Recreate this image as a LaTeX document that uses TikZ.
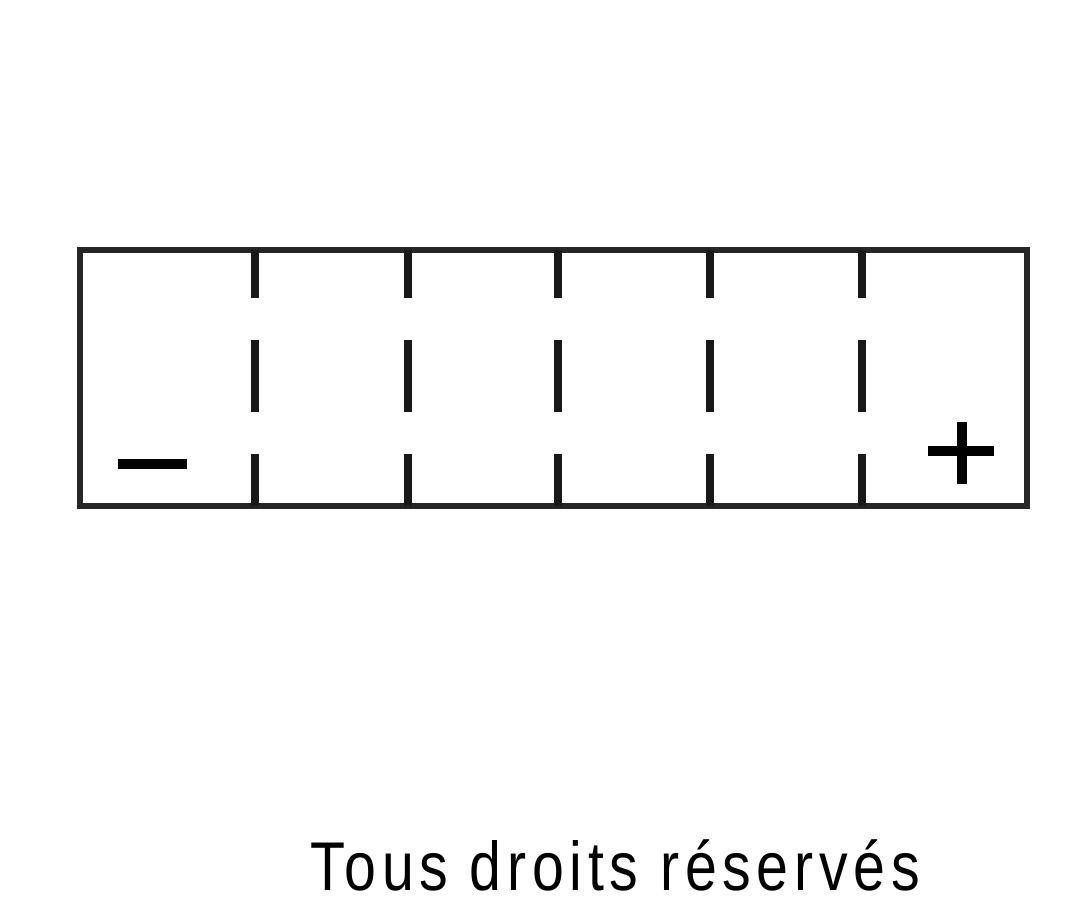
\documentclass[tikz,border=0pt]{standalone}
\usepackage{fontspec}
\newfontfamily\labelfont[LetterSpace=10]{Liberation Sans}
\begin{document}
\begin{tikzpicture}[x=1pt,y=-1pt,
  frame/.style={draw=black!85,line width=6pt},
  sep/.style={draw=black!90,line width=8pt},
  sign/.style={draw=black,line width=10pt},
  caption/.style={font=\labelfont\fontsize{69}{80}\selectfont,inner sep=0pt,anchor=base west}]
\useasboundingbox (0,0) rectangle (1080,906);
\coordinate (tl) at (80,250);
\coordinate (br) at (1027,506);
\draw[frame] (tl) rectangle (br);
\foreach \x in {255,408,558,710,862}{
  \draw[sep] (\x,250) -- (\x,298);
  \draw[sep] (\x,340) -- (\x,412);
  \draw[sep] (\x,454) -- (\x,506);
}
\coordinate (m1) at (118,464);
\coordinate (m2) at (187,464);
\draw[sign] (m1) -- (m2);
\coordinate (p1) at (928,451);
\coordinate (p2) at (994,451);
\coordinate (p3) at (962,422);
\coordinate (p4) at (962,484);
\draw[sign] (p1) -- (p2);
\draw[sign] (p3) -- (p4);
\node[caption] (cap) at (310,890) {\scalebox{0.83}[1]{Tous droits réservés}};
\end{tikzpicture}
\end{document}
